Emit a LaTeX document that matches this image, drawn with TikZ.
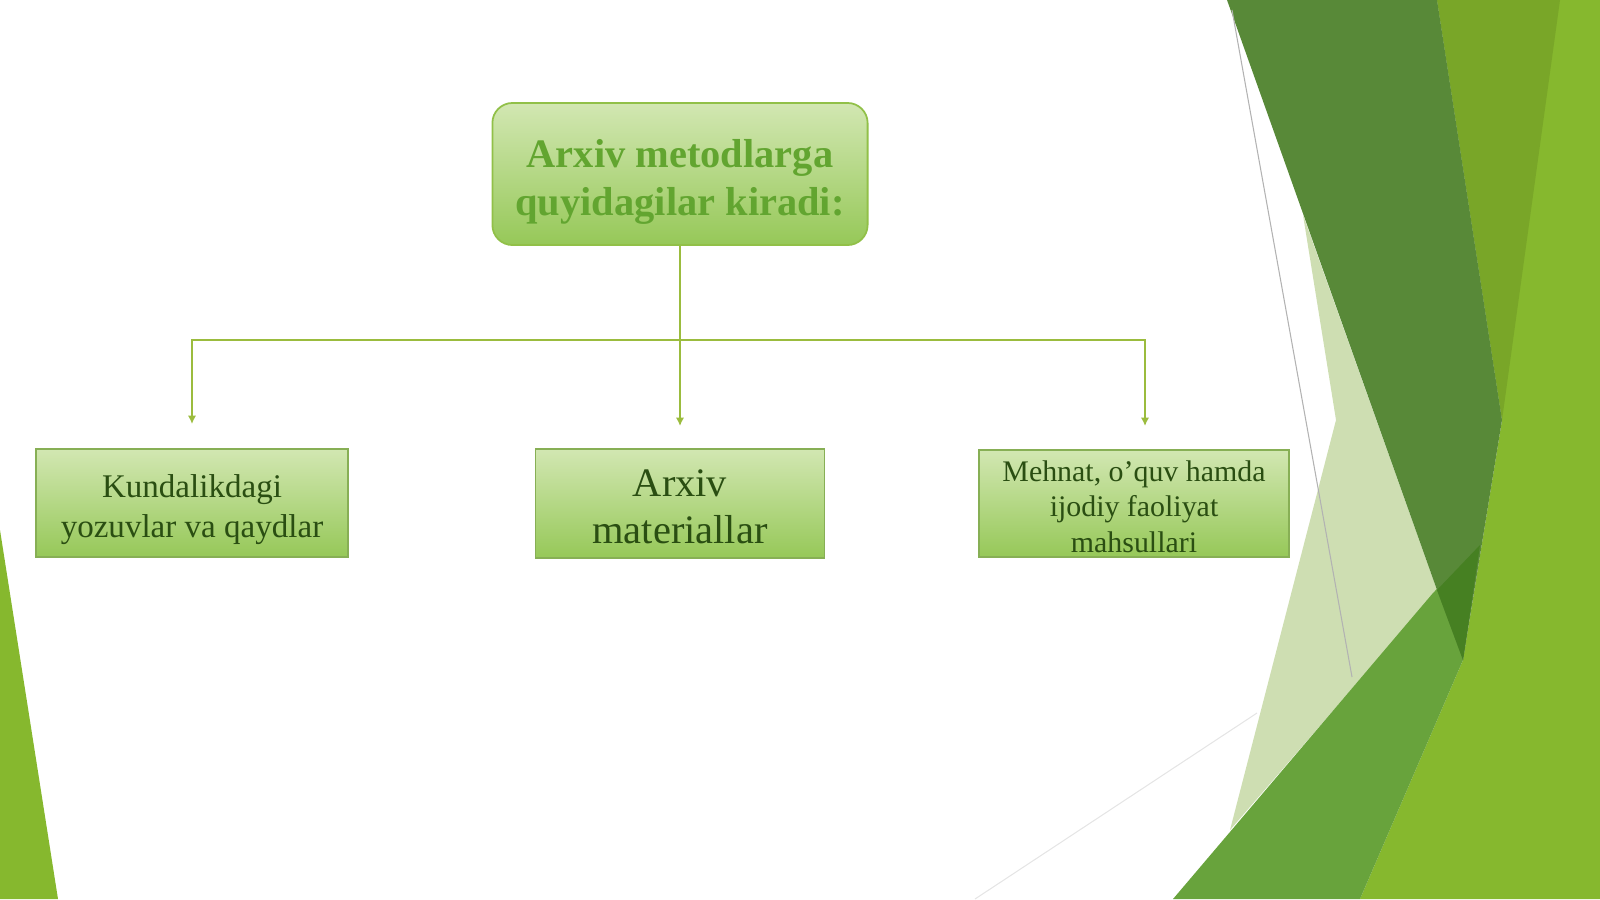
\documentclass[tikz,border=0pt]{standalone}
\usepackage{fontspec}
\setmainfont{Liberation Serif}
\usetikzlibrary{arrows.meta}
\definecolor{leafdark}{RGB}{88,137,56}
\definecolor{leafdeep}{RGB}{70,128,34}
\definecolor{leafmid}{RGB}{104,163,60}
\definecolor{leafolive}{RGB}{121,166,40}
\definecolor{leafbright}{RGB}{134,184,46}
\definecolor{leafpale}{RGB}{206,222,178}
\definecolor{boxtop}{RGB}{210,231,178}
\definecolor{boxbot}{RGB}{150,200,88}
\definecolor{boxline}{RGB}{135,175,85}
\definecolor{titleline}{RGB}{145,192,72}
\definecolor{titlegreen}{RGB}{98,165,48}
\definecolor{textgreen}{RGB}{42,78,18}
\definecolor{linkgreen}{RGB}{155,188,62}
\newcommand{\topgap}[1]{\rule{0pt}{#1}}

\begin{document}
\begin{tikzpicture}[x=0.01cm, y=-0.01cm,
      box/.style={rectangle, draw=boxline, line width=0.5pt, top color=boxtop, bottom color=boxbot, align=center, text=textgreen, inner sep=1pt},
      link/.style={draw=linkgreen, line width=0.6pt, -{Latex[length=2.4pt,width=2.4pt]}}]
            \useasboundingbox (0,0) rectangle (1600,899);
%           \draw[help lines] (0,0) grid[step=100] (1600,899);
            \fill[leafbright] (0,530) -- (58,899) -- (0,899) -- cycle;
            \fill[leafbright] (1437,0) -- (1600,0) -- (1600,899) -- (1360,899) -- (1463,660) -- (1502,420) -- cycle;
            \fill[leafolive] (1437,0) -- (1560,0) -- (1502,420) -- cycle;
            \fill[leafpale] (1303,215) -- (1437,590) -- (1230,830) -- (1336,420) -- cycle;
            \fill[leafmid] (1433,593) -- (1480,545) -- (1463,660) -- (1360,899) -- (1173,899) -- cycle;
            \fill[leafdark] (1227,0) -- (1437,0) -- (1502,420) -- (1463,660) -- (1437,590) -- cycle;
            \fill[leafdeep] (1437,590) -- (1480,545) -- (1463,660) -- cycle;
            \draw[gray!60, line width=0.3pt] (1232,10) -- (1352,677);
            \draw[gray!20, line width=0.3pt] (1257,713) -- (975,899);
            \node[box, rounded corners=5.7pt, draw=titleline, minimum width=3.75cm, minimum height=1.42cm, text=titlegreen, text depth=-1.5pt, font=\fontsize{11.5}{13.7}\selectfont\bf] (top) at (680,174) {\topgap{10pt}Arxiv metodlarga\\quyidagilar kiradi:};
            \node[box, minimum width=3.12cm, minimum height=1.08cm, text depth=-1.4pt, font=\fontsize{9.4}{11.6}\selectfont] (diary) at (192,503) {\topgap{8.2pt}Kundalikdagi\\yozuvlar va qaydlar};
            \node[box, minimum width=2.89cm, minimum height=1.09cm, text depth=-2pt, font=\fontsize{11.5}{13.3}\selectfont] (archive) at (680,503.5) {\topgap{9.4pt}Arxiv\\materiallar};
            \node[box, minimum width=3.10cm, minimum height=1.07cm, text depth=-2pt, font=\fontsize{8.5}{10.2}\selectfont] (works) at (1134,503.5) {\topgap{7.6pt}Mehnat, o’quv hamda\\ijodiy faoliyat\\mahsullari};
            \coordinate (hub) at (680,340);
            \coordinate (tipL) at (192,424);
            \coordinate (tipM) at (680,426);
            \coordinate (tipR) at (1145,426);
            \draw[link] (top) -- (tipM);
            \draw[link] (hub) -| (tipL);
            \draw[link] (hub) -| (tipR);
      \end{tikzpicture}
\end{document}
